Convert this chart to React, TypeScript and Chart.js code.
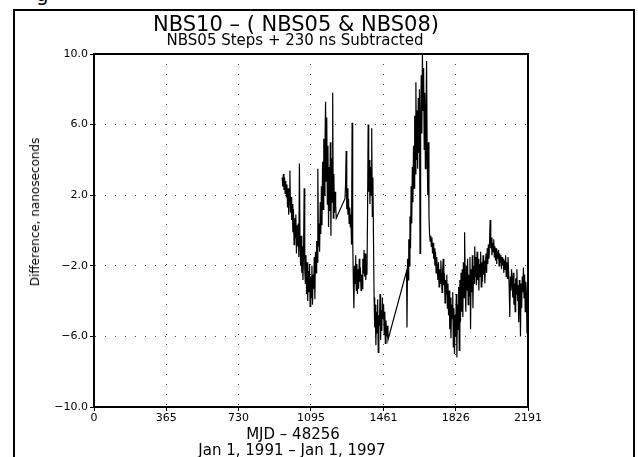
import React, { useEffect, useRef } from 'react';
import { Chart, registerables } from 'chart.js';

Chart.register(...registerables);

const TITLE = 'NBS10 – ( NBS05 & NBS08)';
const SUBTITLE = 'NBS05 Steps + 230 ns Subtracted';
const Y_TITLE = 'Difference, nanoseconds';
const X_TITLE = 'MJD – 48256';
const X_SUBTITLE = 'Jan 1, 1991 – Jan 1, 1997';

const X_TICKS = [0, 365, 730, 1095, 1461, 1826, 2191];
const Y_TICKS = [-10, -6, -2, 2, 6, 10];

// MJD - 48256 (days)
const DAYS = [
  950, 953, 956, 959, 962, 965, 968, 971, 974, 977,
  980, 983, 986, 989, 992, 995, 998, 1001, 1004, 1007,
  1010, 1013, 1016, 1019, 1022, 1025, 1028, 1031, 1034, 1037,
  1040, 1043, 1046, 1049, 1052, 1055, 1058, 1061, 1064, 1067,
  1070, 1073, 1076, 1079, 1082, 1085, 1088, 1091, 1094, 1097,
  1100, 1103, 1106, 1109, 1112, 1115, 1118, 1121, 1124, 1127,
  1130, 1133, 1136, 1139, 1142, 1145, 1148, 1151, 1154, 1157,
  1160, 1163, 1166, 1169, 1172, 1175, 1178, 1181, 1184, 1187,
  1190, 1193, 1196, 1199, 1202, 1205, 1208, 1211, 1214, 1217,
  1220, 1223,
  1267, 1270, 1273, 1276, 1279, 1282, 1285, 1288, 1291, 1294,
  1297, 1300, 1303, 1306, 1309, 1312, 1315, 1318, 1321, 1324,
  1327, 1330, 1333, 1336, 1339, 1342, 1345, 1348, 1351, 1354,
  1357, 1360, 1363, 1366, 1369, 1372, 1375, 1378, 1381, 1384,
  1387, 1390, 1393, 1396, 1399, 1402, 1405, 1408, 1411,
  1414, 1417, 1420, 1423, 1426, 1429, 1432, 1435, 1438, 1441,
  1444, 1447, 1450, 1453, 1456, 1459, 1462, 1465, 1468, 1471,
  1474, 1477, 1480, 1484,
  1578, 1580, 1583, 1586, 1589, 1592, 1595, 1598, 1601, 1604,
  1607, 1610, 1613, 1616, 1619, 1622, 1625, 1628, 1631, 1634,
  1637, 1640, 1643, 1646, 1649, 1652, 1655, 1658, 1661, 1664,
  1667, 1670, 1673, 1676, 1679, 1682, 1685, 1688, 1691, 1694,
  1697, 1700,
  1703, 1706, 1709, 1712, 1715, 1718, 1721, 1724, 1727, 1730,
  1733, 1736, 1739, 1742, 1745, 1748, 1751, 1754, 1757, 1760,
  1763, 1766, 1769, 1772, 1775, 1778, 1781, 1784, 1787, 1790,
  1793, 1796, 1799, 1802, 1805, 1808, 1811, 1814, 1817, 1820,
  1823, 1826, 1829, 1832, 1835, 1838, 1841, 1844, 1847, 1850,
  1853, 1856,
  1859, 1862, 1865, 1868, 1871, 1874, 1877, 1880, 1883, 1886,
  1889, 1892, 1895, 1898, 1901, 1904, 1907, 1910, 1913, 1916,
  1919, 1922, 1925, 1928, 1931, 1934, 1937, 1940, 1943, 1946,
  1949, 1952, 1955, 1958, 1961, 1964, 1967, 1970, 1973, 1976,
  1979, 1982, 1985, 1988,
  1991, 1994, 1997, 2000, 2003, 2006, 2009, 2012, 2015, 2018,
  2021, 2024, 2027, 2030, 2033, 2036, 2039, 2042, 2045, 2048,
  2051, 2054, 2057, 2060, 2063, 2066, 2069, 2072, 2075, 2078,
  2081, 2084, 2087, 2090, 2093,
  2096, 2099, 2102, 2105, 2108, 2111, 2114, 2117, 2120, 2123,
  2126, 2129, 2132, 2135, 2138, 2141, 2144, 2147, 2150, 2153,
  2156, 2159, 2162, 2165, 2168, 2171, 2174, 2177, 2180, 2183,
  2186, 2189, 2191,
];

// Difference, nanoseconds
const DIFF_NS = [
  3.0, 2.5, 3.2, 2.3, 3.0, 2.1, 2.8, 1.9, 2.6, 1.3,
  2.4, 0.9, 1.9, 3.4, 1.0, 1.9, 0.6, 1.5, -0.1, 1.2,
  -0.8, 0.7, -0.4, 0.9, -1.3, 0.3, -0.9, 0.4, -1.5, 3.8,
  -0.6, -2.0, -0.3, -2.4, -0.9, -2.8, -1.1, 2.4, -2.2, -3.0,
  -1.4, -3.6, -1.8, -4.0, -2.3, -3.5, -1.9, -4.3, -2.6, -3.8,
  -2.0, -4.2, -2.5, -3.3, -1.5, -3.9, -1.2, -2.4, -0.6, -1.8,
  3.5, -0.9, 0.4, -1.2, 1.6, -0.2, 2.5, 0.3, 3.9, 1.2,
  5.2, 2.0, 4.6, 7.3, 2.8, 6.4, 1.5, 4.8, 0.2, 3.6,
  1.1, 5.0, -0.3, 4.1, 1.6, 7.8, 0.7, 3.2, 1.0, 2.2,
  1.4, 0.7,
  1.8, 2.6, 4.5, 1.2, 2.4, 0.9, 1.8, 0.4, 1.3, 0.2,
  0.9, -0.8, 6.1, -0.5, -2.7, -4.4, -2.0, -3.0, -1.4, -3.4,
  -1.9, -3.6, -2.2, -3.3, -1.6, -2.9, -2.1, -3.4, -2.5, -3.3,
  -1.6, -2.4, -1.1, -2.6, -1.3, -2.8, -1.8, -2.5, 1.0, 6.0,
  2.2, 4.0, 1.5, 3.6, 2.0, 5.8, 0.8, 3.0, -0.5,
  -3.8, -5.5, -4.2, -6.5, -4.6, -5.8, -3.9, -6.9, -4.8, -5.4,
  -3.6, -6.2, -4.5, -5.7, -3.8, -5.0, -4.2, -5.9, -4.6, -6.4,
  -5.1, -6.0, -5.4, -6.2,
  -2.3, -5.5, -1.6, -2.8, -0.5, -2.0, 0.8, -1.0, 2.5, 0.4,
  3.6, 1.6, 4.8, 2.4, 6.5, 3.2, 8.4, 4.0, 6.8, 3.5,
  7.5, 4.4, 8.0, -1.3, 6.0, 8.8, 5.5, 10.0, 6.8, 9.2,
  4.6, 7.8, 3.5, 6.2, 9.6, 4.2, 2.0, 5.0, 0.8, -0.2,
  -0.6, -0.3,
  -0.9, -0.4, -1.3, -0.7, -1.6, -1.0, -2.0, -1.2, -2.4, -1.5,
  -2.1, -2.8, -1.8, -3.2, -2.2, -3.0, -1.7, -2.6, -3.5, -2.3,
  -1.6, -3.1, -2.4, -4.1, -2.8, -3.6, -2.5, -4.4, -3.0, -4.8,
  -3.4, -5.6, -3.8, -6.1, -4.2, -5.0, -3.5, -6.6, -4.4, -7.0,
  -4.8, -6.0, -3.6, -7.2, -4.2, -5.6, -3.2, -6.8, -2.8, -5.2,
  -2.4, -4.6,
  -2.2, -4.9, -1.8, -3.8, -0.1, -3.0, -4.6, -2.0, -3.4, -1.6,
  -4.2, -2.5, -3.7, -1.5, -5.6, -2.2, -3.5, -1.4, -4.4, -2.0,
  -3.0, -0.9, -2.6, -1.5, -3.1, -1.2, -2.8, -1.6, -3.4, -1.9,
  -2.6, -1.2, -3.2, -1.8, -2.9, -1.4, -2.5, -1.7, -3.0, -2.0,
  -1.3, -2.4, -1.0, -1.9,
  -0.8, -1.6, -0.6, 0.6, -1.0, -0.4, -1.4, -0.7, -1.2, -0.5,
  -1.5, -0.9, -1.7, -1.0, -1.9, -1.2, -1.6, -1.1, -2.0, -1.3,
  -1.8, -1.4, -2.2, -1.5, -2.0, -1.6, -2.4, -1.7, -2.2, -1.4,
  -2.6, -1.8, -2.7, -1.5, -2.3,
  -3.2, -4.9, -2.6, -3.4, -2.2, -2.9, -3.8, -2.4, -4.2, -3.0,
  -4.6, -2.7, -3.6, -2.2, -4.0, -3.1, -5.2, -2.8, -3.9, -6.0,
  -3.0, -4.4, -2.6, -3.5, -2.1, -3.8, -2.5, -4.6, -2.9, -3.6,
  -5.8, -2.8, -3.4,
];

const FONT = "'DejaVu Sans', 'Liberation Sans', sans-serif";

const framePlugin = {
  id: 'plotFrame',
  afterDraw(chart: any) {
    const { ctx, chartArea: a } = chart;
    ctx.save();
    ctx.strokeStyle = '#000';
    ctx.lineWidth = 2;
    ctx.strokeRect(a.left, a.top, a.right - a.left, a.bottom - a.top);
    ctx.restore();
  },
};

function Label(props: { x: number; y: number; size: number; text: string; rotate?: boolean }) {
  const { x, y, size, text, rotate } = props;
  return (
    <div
      style={{
        position: 'absolute',
        left: x,
        top: y,
        transform: `translate(-50%, -50%)${rotate ? ' rotate(-90deg)' : ''}`,
        fontFamily: FONT,
        fontSize: size,
        color: '#000',
        whiteSpace: 'nowrap',
        lineHeight: 1,
      }}
    >
      {text}
    </div>
  );
}

export default function App() {
  const canvasRef = useRef<HTMLCanvasElement>(null);

  useEffect(() => {
    document.body.style.margin = '0';
    const n = Math.min(DAYS.length, DIFF_NS.length);
    const points: { x: number; y: number }[] = [];
    for (let i = 0; i < n; i++) points.push({ x: DAYS[i], y: DIFF_NS[i] });

    const gridCommon = {
      color: '#444',
      lineWidth: 1,
      tickLength: 4,
      tickColor: '#000',
      tickWidth: 1,
    };

    const chart = new Chart(canvasRef.current as HTMLCanvasElement, {
      type: 'line',
      data: {
        datasets: [
          {
            data: points,
            borderColor: '#000',
            borderWidth: 1.2,
            pointRadius: 0,
            tension: 0,
            fill: false,
          },
        ],
      },
      options: {
        animation: false,
        responsive: false,
        layout: { padding: { left: 0, top: 54, right: 110, bottom: 30 } },
        plugins: {
          legend: { display: false },
          tooltip: { enabled: false },
          title: { display: false },
        },
        scales: {
          x: {
            type: 'linear',
            min: 0,
            max: 2191,
            afterBuildTicks: (s: any) => {
              s.ticks = X_TICKS.map((v) => ({ value: v }));
            },
            afterFit: (s: any) => {
              s.height = 20;
            },
            ticks: {
              autoSkip: false,
              maxRotation: 0,
              color: '#000',
              padding: 1,
              font: { family: FONT, size: 11 },
              callback: (v: any) => String(v),
            },
            grid: gridCommon,
            border: { display: true, color: '#000', width: 2, dash: [1, 9] },
          },
          y: {
            type: 'linear',
            min: -10,
            max: 10,
            afterBuildTicks: (s: any) => {
              s.ticks = Y_TICKS.map((v) => ({ value: v }));
            },
            afterFit: (s: any) => {
              s.width = 94;
            },
            ticks: {
              autoSkip: false,
              color: '#000',
              padding: 2,
              font: { family: FONT, size: 11 },
              callback: (v: any) => {
                const num = Number(v);
                return (num < 0 ? '−' : '') + Math.abs(num).toFixed(1);
              },
            },
            grid: gridCommon,
            border: { display: true, color: '#000', width: 2, dash: [1, 9] },
          },
        },
      },
      plugins: [framePlugin],
    } as any);

    return () => chart.destroy();
  }, []);

  return (
    <div
      style={{
        position: 'relative',
        width: 638,
        height: 457,
        overflow: 'hidden',
        background: '#fff',
      }}
    >
      <div
        style={{
          position: 'absolute',
          left: 36,
          top: 0,
          width: 16,
          height: 6,
          overflow: 'hidden',
        }}
      >
        <span
          style={{
            position: 'absolute',
            left: 0,
            top: -17,
            fontFamily: FONT,
            fontSize: 20,
            lineHeight: '23px',
          }}
        >
          g
        </span>
      </div>
      <div
        style={{
          position: 'absolute',
          left: 13,
          top: 9,
          width: 618,
          height: 460,
          borderLeft: '2px solid #000',
          borderTop: '2px solid #000',
          borderRight: '2px solid #000',
        }}
      />
      <canvas
        ref={canvasRef}
        width={638}
        height={457}
        style={{ position: 'absolute', left: 0, top: 0, width: 638, height: 457 }}
      />
      <Label x={296} y={24} size={21} text={TITLE} />
      <Label x={295} y={40} size={15} text={SUBTITLE} />
      <Label x={35} y={212} size={12} text={Y_TITLE} rotate />
      <Label x={293} y={434} size={15} text={X_TITLE} />
      <Label x={292} y={450} size={15} text={X_SUBTITLE} />
    </div>
  );
}
